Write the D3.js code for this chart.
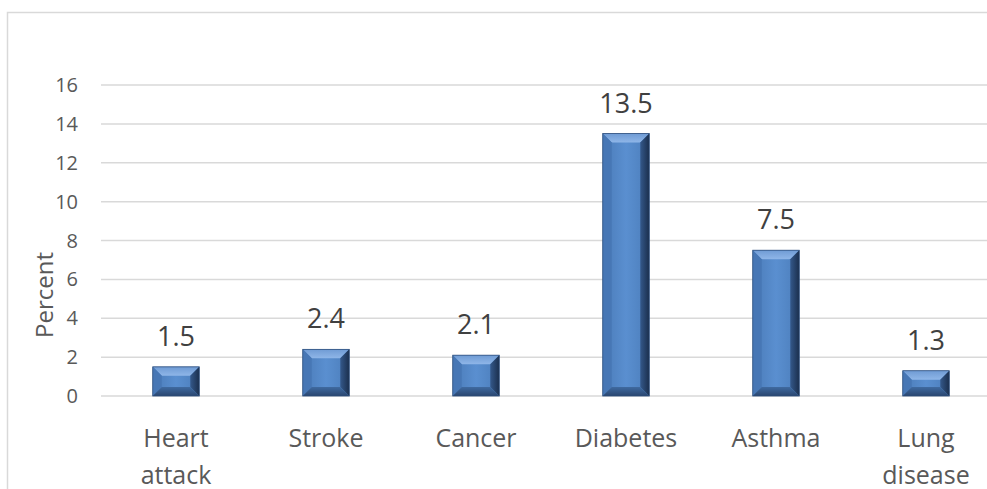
<!DOCTYPE html>
<html>
<head>
<meta charset="utf-8">
<script src="https://cdn.jsdelivr.net/npm/d3@7"></script>
<style>
  body { margin: 0; background: #fff; }
  text { font-family: "Open Sans", sans-serif; }
</style>
</head>
<body>
<div id="chart"></div>
<script>
// data
const categories = [["Heart", "attack"], ["Stroke"], ["Cancer"], ["Diabetes"], ["Asthma"], ["Lung", "disease"]];
const values = [1.5, 2.4, 2.1, 13.5, 7.5, 1.3];
const yTicks = [0, 2, 4, 6, 8, 10, 12, 14, 16];
const yLabel = "Percent";

const width = 987, height = 489;
const plot = { left: 101, right: 1001, top: 85, bottom: 396 };

const svg = d3.select("#chart").append("svg")
  .attr("width", width)
  .attr("height", height);

// outer chart border
svg.append("rect")
  .attr("x", 7.5).attr("y", 12.5)
  .attr("width", 1100).attr("height", 600)
  .style("fill", "none")
  .style("stroke", "#d9d9d9")
  .style("stroke-width", 1.5);

const x = d3.scaleBand()
  .domain(d3.range(categories.length))
  .range([plot.left, plot.right])
  .paddingInner(0.69)
  .paddingOuter(0.345);

const y = d3.scaleLinear()
  .domain([0, 16])
  .range([plot.bottom, plot.top]);

// gridlines
svg.append("g").selectAll("line")
  .data(yTicks)
  .enter().append("line")
  .attr("x1", plot.left).attr("x2", plot.right)
  .attr("y1", d => y(d)).attr("y2", d => y(d))
  .style("stroke", "#d9d9d9")
  .style("stroke-width", 1.5);

// y tick labels
svg.append("g").selectAll("text")
  .data(yTicks)
  .enter().append("text")
  .attr("x", 78)
  .attr("y", d => y(d))
  .attr("dy", "0.35em")
  .attr("text-anchor", "end")
  .style("font-size", "20px")
  .style("fill", "#595959")
  .text(d => d);

// y axis title
svg.append("text")
  .attr("transform", "translate(53,295) rotate(-90)")
  .attr("text-anchor", "middle")
  .style("font-size", "24px")
  .style("fill", "#595959")
  .text(yLabel);

// gradients for bevel bars
const defs = svg.append("defs");
function grad(id, x2, y2, c1, c2) {
  const gr = defs.append("linearGradient").attr("id", id)
    .attr("x1", "0%").attr("y1", "0%").attr("x2", x2).attr("y2", y2);
  gr.append("stop").attr("offset", "0%").attr("stop-color", c1);
  gr.append("stop").attr("offset", "100%").attr("stop-color", c2);
}
const face = defs.append("linearGradient").attr("id", "face")
  .attr("x1", "0%").attr("x2", "100%").attr("y1", "0%").attr("y2", "0%");
face.append("stop").attr("offset", "0%").attr("stop-color", "#4a7bb8");
face.append("stop").attr("offset", "50%").attr("stop-color", "#5a8fd0");
face.append("stop").attr("offset", "100%").attr("stop-color", "#4b7dba");
grad("topB", "0%", "100%", "#6f9bd4", "#8fb6e8");
grad("rightB", "100%", "0%", "#34588a", "#1b2f4d");
grad("bottomB", "0%", "100%", "#3f6aa0", "#2a4670");

const bars = svg.append("g").selectAll("g")
  .data(values)
  .enter().append("g");

bars.each(function(v, i) {
  const g = d3.select(this);
  const x0 = x(i), x1 = x(i) + x.bandwidth();
  const y0 = y(v), y1 = y(0);
  const h = y1 - y0;
  const bx = 9;
  const by = Math.min(9, h / 2.6);
  const ix0 = x0 + bx, ix1 = x1 - bx, iy0 = y0 + by, iy1 = y1 - by;

  g.append("rect")
    .attr("x", x0).attr("y", y0)
    .attr("width", x1 - x0).attr("height", h)
    .style("fill", "url(#face)");
  // top bevel
  g.append("polygon")
    .attr("points", [[x0, y0], [x1, y0], [ix1, iy0], [ix0, iy0]].join(" "))
    .style("fill", "url(#topB)");
  // left bevel
  g.append("polygon")
    .attr("points", [[x0, y0], [ix0, iy0], [ix0, iy1], [x0, y1]].join(" "))
    .style("fill", "#4777b5");
  // right bevel
  g.append("polygon")
    .attr("points", [[x1, y0], [ix1, iy0], [ix1, iy1], [x1, y1]].join(" "))
    .style("fill", "url(#rightB)");
  // bottom bevel
  g.append("polygon")
    .attr("points", [[x0, y1], [ix0, iy1], [ix1, iy1], [x1, y1]].join(" "))
    .style("fill", "url(#bottomB)");
  // outline
  g.append("rect")
    .attr("x", x0).attr("y", y0)
    .attr("width", x1 - x0).attr("height", h)
    .style("fill", "none")
    .style("stroke", "#2d4e7c")
    .style("stroke-width", 0.8);
});

// data labels
svg.append("g").selectAll("text")
  .data(values)
  .enter().append("text")
  .attr("x", (d, i) => x(i) + x.bandwidth() / 2)
  .attr("y", d => y(d) - 21)
  .attr("text-anchor", "middle")
  .style("font-size", "27px")
  .style("fill", "#404040")
  .text(d => d.toFixed(1));

// category labels
const cat = svg.append("g").selectAll("text")
  .data(categories)
  .enter().append("text")
  .attr("x", (d, i) => x(i) + x.bandwidth() / 2)
  .attr("y", 447)
  .attr("text-anchor", "middle")
  .style("font-size", "25px")
  .style("fill", "#595959");

cat.selectAll("tspan")
  .data(d => d)
  .enter().append("tspan")
  .attr("x", function() { return d3.select(this.parentNode).attr("x"); })
  .attr("dy", (d, j) => j === 0 ? 0 : 37)
  .text(d => d);
</script>
</body>
</html>
